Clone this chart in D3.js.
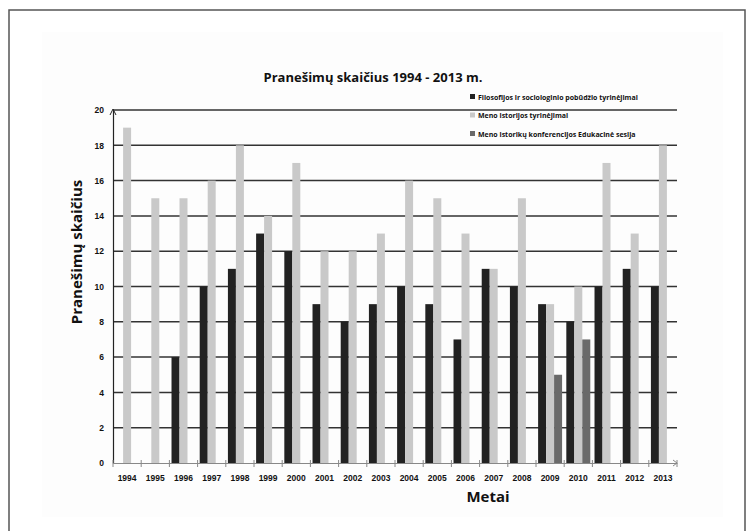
<!DOCTYPE html>
<html>
<head>
<meta charset="utf-8">
<script src="https://cdn.jsdelivr.net/npm/d3@7"></script>
<style>
  body { margin: 0; background: #fff; }
  text { font-family: "Open Sans", "Liberation Sans", sans-serif; font-weight: bold; fill: #111; }
</style>
</head>
<body>
<div id="chart"></div>
<script>
// Data
const years = ["1994", "1995", "1996", "1997", "1998", "1999", "2000", "2001", "2002", "2003",
    "2004", "2005", "2006", "2007", "2008", "2009", "2010", "2011", "2012", "2013"];
const filosofija = [0, 0, 6, 10, 11, 13, 12, 9, 8, 9, 10, 9, 7, 11, 10, 9, 8, 10, 11, 10];
const menoIstorija = [19, 15, 15, 16, 18, 14, 17, 12, 12, 13, 16, 15, 13, 11, 15, 9, 10, 17, 13, 18];
const konferencijos = [0, 0, 0, 0, 0, 0, 0, 0, 0, 0, 0, 0, 0, 0, 0, 5, 7, 0, 0, 0];
const seriesNames = [
    "Filosofijos ir sociologinio pobūdžio tyrinėjimai",
    "Meno istorijos tyrinėjimai",
    "Meno istorikų konferencijos Edukacinė sesija"
];
const seriesColors = ["#222222", "#c9c9c9", "#6a6a6a"];
const yTicks = [0, 2, 4, 6, 8, 10, 12, 14, 16, 18, 20];

const width = 755, height = 531;
const plotLeft = 113, plotRight = 677, plotTop = 110, plotBottom = 463;

const svg = d3.select("#chart").append("svg")
    .attr("width", width)
    .attr("height", height);

// outer frame and faint background
svg.append("rect")
    .attr("x", 9).attr("y", 10)
    .attr("width", 736).attr("height", 540)
    .attr("fill", "#fff").attr("stroke", "#555").attr("stroke-width", 1.5);
svg.append("rect")
    .attr("x", 42).attr("y", 32)
    .attr("width", 681).attr("height", 485)
    .attr("fill", "#fdfdfd");

// Scales
const x0 = d3.scaleBand()
    .domain(years)
    .range([plotLeft, plotRight])
    .paddingInner(0.15)
    .paddingOuter(0.075);

const x1 = d3.scaleBand()
    .domain([0, 1, 2])
    .range([0, x0.bandwidth()]);

const y = d3.scaleLinear()
    .domain([0, 20])
    .range([plotBottom, plotTop]);

// Gridlines
svg.append("g")
    .selectAll("line")
    .data(yTicks.filter(d => d > 0))
    .enter()
    .append("line")
    .attr("x1", plotLeft).attr("x2", plotRight)
    .attr("y1", d => y(d)).attr("y2", d => y(d))
    .attr("stroke", "#333").attr("stroke-width", 1.5);

// Bars
const rows = years.map((yr, i) => ({
    year: yr,
    values: [filosofija[i], menoIstorija[i], konferencijos[i]]
}));

const groups = svg.append("g")
    .selectAll("g")
    .data(rows)
    .enter()
    .append("g")
    .attr("transform", d => "translate(" + x0(d.year) + ",0)");

groups.selectAll("rect")
    .data(d => d.values.map((v, k) => ({ k: k, v: v })))
    .enter()
    .append("rect")
    .attr("x", d => x1(d.k))
    .attr("width", x1.bandwidth())
    .attr("y", d => y(d.v))
    .attr("height", d => y(0) - y(d.v))
    .attr("fill", d => seriesColors[d.k]);

// Y axis
const yAxis = svg.append("g")
    .attr("transform", "translate(" + plotLeft + ",0)")
    .call(d3.axisLeft(y).tickValues(yTicks).tickSize(0).tickPadding(9));
yAxis.select(".domain").attr("stroke", "#222").attr("stroke-width", 1.2);
yAxis.selectAll("text")
    .style("font-size", "8.5px")
    .style("font-family", "'Liberation Sans', sans-serif")
    .style("font-weight", "bold");

// small arrow head at the top of y axis
svg.append("path")
    .attr("d", "M" + (plotLeft - 3) + "," + (plotTop + 5) + "L" + plotLeft + "," + (plotTop - 1) + "L" + (plotLeft + 3) + "," + (plotTop + 5))
    .attr("fill", "none").attr("stroke", "#222").attr("stroke-width", 1);

// X axis
const xAxis = svg.append("g")
    .attr("transform", "translate(0," + plotBottom + ")")
    .call(d3.axisBottom(x0).tickSize(0).tickPadding(12));
xAxis.select(".domain").attr("stroke", "#888").attr("stroke-width", 1.2);
xAxis.selectAll("text")
    .style("font-size", "8.5px")
    .style("font-family", "'Liberation Sans', sans-serif")
    .style("font-weight", "bold");

// category boundary ticks
const step = x0.step();
svg.append("g")
    .selectAll("line")
    .data(years.concat(["end"]))
    .enter()
    .append("line")
    .attr("x1", (d, i) => plotLeft + i * step)
    .attr("x2", (d, i) => plotLeft + i * step)
    .attr("y1", plotBottom - 3).attr("y2", plotBottom + 4)
    .attr("stroke", "#888").attr("stroke-width", 1);
svg.append("path")
    .attr("d", "M" + (plotRight - 4) + "," + (plotBottom - 3) + "L" + plotRight + "," + plotBottom + "L" + (plotRight - 4) + "," + (plotBottom + 3))
    .attr("fill", "none").attr("stroke", "#888").attr("stroke-width", 1);

// Title
svg.append("text")
    .attr("x", 373).attr("y", 82)
    .attr("text-anchor", "middle")
    .style("font-size", "13px")
    .text("Pranešimų skaičius 1994 - 2013 m.");

// Axis titles
svg.append("text")
    .attr("transform", "translate(82,252) rotate(-90)")
    .attr("text-anchor", "middle")
    .style("font-size", "15px")
    .text("Pranešimų skaičius");

svg.append("text")
    .attr("x", 488).attr("y", 502)
    .attr("text-anchor", "middle")
    .style("font-size", "15px")
    .text("Metai");

// Legend
const legend = svg.append("g")
    .selectAll("g")
    .data(seriesNames)
    .enter()
    .append("g")
    .attr("transform", (d, i) => "translate(470," + (97 + i * 18.5) + ")");

legend.append("rect")
    .attr("x", 0).attr("y", -3)
    .attr("width", 5).attr("height", 5)
    .attr("fill", (d, i) => seriesColors[i]);

legend.append("text")
    .attr("x", 8).attr("y", 2.5)
    .style("font-size", "7px")
    .text(d => d);
</script>
</body>
</html>
